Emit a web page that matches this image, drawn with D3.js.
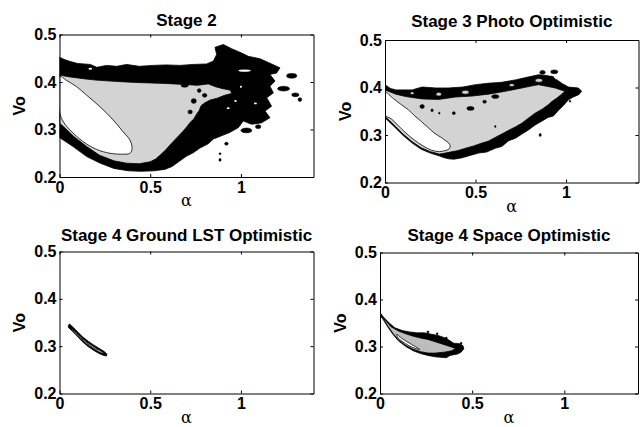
<!DOCTYPE html>
<html><head><meta charset="utf-8">
<script src="https://cdn.jsdelivr.net/npm/d3@7"></script>
<style>body{margin:0;background:#fff}</style>
</head><body><svg id="c" width="644" height="427"></svg>
<script>
// ---------- data ----------
const xDomain = [0, 1.4];
const yDomain = [0.2, 0.5];
const xTicks = [0, 0.5, 1];
const yTicks = [0.2, 0.3, 0.4, 0.5];
const titles = ["Stage 2", "Stage 3 Photo Optimistic", "Stage 4 Ground LST Optimistic", "Stage 4 Space Optimistic"];
const xLabel = "α", yLabel = "Vo";

// Stage 2 contour regions [alpha, Vo]
const s2Outer = [[0,0.452],[0.03,0.447],[0.06,0.443],[0.1,0.439],[0.17,0.437],[0.205,0.431],[0.26,0.435],[0.315,0.433],[0.37,0.437],[0.44,0.433],[0.515,0.435],[0.59,0.436],[0.664,0.435],[0.737,0.437],[0.811,0.438],[0.848,0.444],[0.866,0.458],[0.857,0.473],[0.903,0.479],[0.949,0.47],[1.004,0.461],[1.041,0.454],[1.105,0.449],[1.169,0.438],[1.215,0.43],[1.197,0.419],[1.16,0.416],[1.188,0.402],[1.16,0.391],[1.179,0.377],[1.142,0.367],[1.169,0.349],[1.133,0.339],[1.16,0.325],[1.114,0.314],[1.059,0.311],[1.013,0.318],[0.986,0.304],[0.94,0.294],[0.894,0.287],[0.848,0.28],[0.82,0.27],[0.774,0.261],[0.737,0.251],[0.701,0.244],[0.664,0.234],[0.62,0.222],[0.58,0.216],[0.52,0.213],[0.45,0.212],[0.38,0.213],[0.3,0.218],[0.225,0.229],[0.15,0.243],[0.075,0.264],[0.02,0.278],[0,0.283]];
const s2Mid = [[0,0.415],[0.05,0.411],[0.13,0.407],[0.2,0.404],[0.32,0.401],[0.42,0.399],[0.5,0.398],[0.58,0.397],[0.68,0.395],[0.76,0.393],[0.82,0.396],[0.86,0.39],[0.9,0.386],[0.94,0.383],[0.95,0.376],[0.91,0.372],[0.87,0.366],[0.83,0.362],[0.8,0.356],[0.78,0.35],[0.77,0.34],[0.755,0.332],[0.74,0.322],[0.72,0.315],[0.7,0.305],[0.68,0.296],[0.66,0.288],[0.635,0.278],[0.61,0.268],[0.585,0.257],[0.56,0.248],[0.53,0.238],[0.5,0.232],[0.44,0.228],[0.37,0.229],[0.3,0.234],[0.22,0.246],[0.15,0.264],[0.08,0.285],[0.02,0.307],[0,0.313]];
const s2Inner = [[0,0.412],[0.04,0.403],[0.095,0.39],[0.15,0.372],[0.223,0.348],[0.296,0.32],[0.351,0.295],[0.388,0.278],[0.4,0.26],[0.388,0.25],[0.351,0.248],[0.278,0.25],[0.205,0.258],[0.132,0.274],[0.058,0.299],[0.022,0.316],[0,0.337]];
// small islands [alpha, Vo, half-width, half-height, level]
const s2Spots = [[1.28,0.413,0.028,0.005,"k"],[1.235,0.386,0.033,0.005,"k"],[1.3,0.373,0.02,0.004,"k"],[1.325,0.363,0.01,0.004,"k"],[1.03,0.298,0.03,0.005,"k"],[1.095,0.306,0.015,0.004,"k"],[0.92,0.27,0.01,0.003,"k"],[0.885,0.249,0.005,0.002,"k"],[0.885,0.236,0.006,0.003,"k"],
  [1.02,0.424,0.035,0.0025,"w"],[0.17,0.428,0.01,0.002,"w"],[0.93,0.345,0.008,0.002,"w"],[1.0,0.39,0.006,0.002,"w"],[0.97,0.36,0.007,0.002,"w"],[1.08,0.355,0.008,0.002,"w"],
  [0.69,0.392,0.02,0.003,"k"],[0.72,0.337,0.012,0.004,"k"],[0.77,0.382,0.01,0.004,"k"],[0.74,0.36,0.014,0.005,"k"],[0.8,0.372,0.012,0.004,"k"]];

// Stage 3 Photo Optimistic
const s3Outer = [[0,0.406],[0.03,0.398],[0.06,0.395],[0.15,0.395],[0.205,0.401],[0.28,0.399],[0.35,0.399],[0.43,0.401],[0.5,0.406],[0.57,0.409],[0.645,0.411],[0.72,0.416],[0.79,0.422],[0.85,0.427],[0.9,0.425],[0.95,0.416],[0.98,0.408],[1.013,0.401],[1.068,0.399],[1.086,0.392],[1.07,0.385],[1.04,0.38],[1.013,0.374],[0.985,0.362],[0.958,0.352],[0.93,0.34],[0.9,0.337],[0.87,0.33],[0.829,0.321],[0.79,0.31],[0.756,0.302],[0.72,0.293],[0.683,0.288],[0.645,0.276],[0.609,0.272],[0.56,0.264],[0.517,0.262],[0.47,0.257],[0.426,0.252],[0.38,0.249],[0.35,0.25],[0.32,0.253],[0.3,0.256],[0.25,0.262],[0.2,0.27],[0.15,0.283],[0.1,0.299],[0.05,0.318],[0.02,0.329],[0,0.336]];
const s3Mid = [[0,0.395],[0.06,0.386],[0.114,0.381],[0.205,0.376],[0.297,0.375],[0.389,0.38],[0.481,0.382],[0.572,0.386],[0.664,0.392],[0.756,0.399],[0.82,0.404],[0.848,0.406],[0.9,0.402],[0.94,0.399],[0.994,0.392],[0.976,0.386],[0.95,0.378],[0.92,0.37],[0.903,0.364],[0.87,0.355],[0.829,0.346],[0.79,0.335],[0.756,0.325],[0.72,0.317],[0.683,0.31],[0.645,0.302],[0.609,0.295],[0.57,0.287],[0.536,0.283],[0.49,0.277],[0.444,0.272],[0.4,0.267],[0.36,0.264],[0.32,0.261],[0.3,0.26],[0.25,0.265],[0.2,0.273],[0.15,0.286],[0.1,0.302],[0.05,0.321],[0.02,0.332],[0,0.339]];
const s3Inner = [[0,0.391],[0.03,0.382],[0.055,0.374],[0.09,0.364],[0.129,0.353],[0.165,0.34],[0.202,0.328],[0.24,0.315],[0.276,0.303],[0.31,0.295],[0.331,0.289],[0.352,0.283],[0.36,0.277],[0.352,0.27],[0.33,0.267],[0.3,0.265],[0.257,0.268],[0.21,0.277],[0.16,0.29],[0.11,0.306],[0.07,0.321],[0.035,0.334],[0,0.342]];
const s3Spots = [[0.472,0.356,0.02,0.004,"k"],[0.38,0.346,0.008,0.003,"k"],[0.205,0.36,0.012,0.004,"k"],[0.609,0.381,0.02,0.004,"k"],[0.3,0.346,0.004,0.002,"k"],[0.609,0.318,0.004,0.002,"k"],[0.55,0.37,0.01,0.003,"k"],[0.26,0.352,0.006,0.003,"k"],
  [0.857,0.3,0.006,0.003,"k"],[0.87,0.432,0.015,0.004,"k"],[0.935,0.433,0.02,0.004,"k"],[0.915,0.419,0.02,0.005,"k"],[1.022,0.371,0.004,0.002,"k"],
  [0.444,0.39,0.02,0.004,"g"],[0.297,0.386,0.015,0.004,"g"],[0.7,0.405,0.015,0.003,"g"],[0.15,0.388,0.01,0.003,"g"],[0.85,0.415,0.02,0.004,"g"]];

// Stage 4 Ground LST Optimistic
const s4gOuter = [[0.048,0.343],[0.055,0.347],[0.075,0.34],[0.1,0.33],[0.13,0.319],[0.16,0.31],[0.19,0.302],[0.22,0.295],[0.245,0.289],[0.262,0.283],[0.258,0.279],[0.24,0.281],[0.215,0.285],[0.185,0.292],[0.155,0.3],[0.125,0.31],[0.095,0.322],[0.07,0.332],[0.05,0.339]];
const s4gMid = [[0.065,0.338],[0.09,0.329],[0.12,0.318],[0.15,0.309],[0.18,0.301],[0.21,0.294],[0.235,0.288],[0.248,0.285],[0.235,0.285],[0.21,0.289],[0.18,0.296],[0.15,0.304],[0.12,0.314],[0.09,0.325],[0.068,0.334]];
const s4gInner = [[0.1,0.325],[0.13,0.315],[0.16,0.306],[0.19,0.299],[0.215,0.292],[0.2,0.294],[0.17,0.301],[0.14,0.31],[0.11,0.32]];
const s4gSpots = [];

// Stage 4 Space Optimistic
const s4sOuter = [[0,0.372],[0.02,0.362],[0.05,0.35],[0.08,0.34],[0.12,0.334],[0.16,0.331],[0.2,0.329],[0.24,0.329],[0.28,0.326],[0.32,0.323],[0.36,0.317],[0.38,0.312],[0.4,0.307],[0.43,0.306],[0.45,0.302],[0.455,0.295],[0.44,0.288],[0.42,0.284],[0.38,0.281],[0.36,0.276],[0.33,0.277],[0.3,0.278],[0.26,0.281],[0.22,0.285],[0.18,0.291],[0.14,0.3],[0.1,0.312],[0.07,0.326],[0.04,0.343],[0.02,0.356],[0,0.366]];
const s4sMid = [[0.004,0.368],[0.03,0.355],[0.06,0.342],[0.1,0.333],[0.14,0.327],[0.18,0.322],[0.22,0.318],[0.26,0.315],[0.3,0.31],[0.34,0.305],[0.38,0.3],[0.41,0.296],[0.39,0.291],[0.35,0.288],[0.3,0.286],[0.26,0.286],[0.22,0.289],[0.18,0.294],[0.14,0.302],[0.1,0.314],[0.07,0.328],[0.04,0.345],[0.015,0.36]];
const s4sInner = [[0.09,0.326],[0.12,0.317],[0.16,0.307],[0.2,0.298],[0.215,0.294],[0.2,0.295],[0.16,0.301],[0.12,0.311],[0.095,0.32]];
const s4sSpots = [[0.36,0.318,0.005,0.002,"k"],[0.44,0.307,0.005,0.002,"k"],[0.26,0.331,0.006,0.002,"k"],[0.31,0.327,0.005,0.002,"k"]];

// ---------- layout ----------
const layout = [
  {l:59.5, r:313.5, t:34.5, b:177, ty:25.5},
  {l:385, r:638.5, t:40, b:182.5, ty:27},
  {l:59.5, r:313.5, t:251.5, b:393.5, ty:240.5},
  {l:380, r:638, t:252.5, b:393.5, ty:240.5}
];
const panels = [
  {outer:s2Outer, mid:s2Mid, inner:s2Inner, spots:s2Spots, gray:"#d3d3d3"},
  {outer:s3Outer, mid:s3Mid, inner:s3Inner, spots:s3Spots, gray:"#d3d3d3"},
  {outer:s4gOuter, mid:s4gMid, inner:s4gInner, spots:s4gSpots, gray:"#c8c8c8"},
  {outer:s4sOuter, mid:s4sMid, inner:s4sInner, spots:s4sSpots, gray:"#bdbdbd"}
];

const svg = d3.select("#c");
svg.append("rect").attr("width",644).attr("height",427).attr("fill","#fff");
const FONT = "'Liberation Sans', Arial, Helvetica, sans-serif";

panels.forEach((p, i) => {
  const L = layout[i];
  const x = d3.scaleLinear().domain(xDomain).range([L.l, L.r]);
  const y = d3.scaleLinear().domain(yDomain).range([L.b, L.t]);
  const g = svg.append("g");
  const cid = "clip" + i;
  svg.append("clipPath").attr("id", cid).append("rect")
    .attr("x", L.l).attr("y", L.t).attr("width", L.r - L.l).attr("height", L.b - L.t);
  const plot = g.append("g").attr("clip-path", `url(#${cid})`);
  const line = d3.line().x(d => x(d[0])).y(d => y(d[1])).curve(d3.curveLinearClosed);
  const smooth = d3.line().x(d => x(d[0])).y(d => y(d[1])).curve(d3.curveCatmullRomClosed);
  const fills = {k:"#000", g:p.gray, w:"#fff"};

  plot.append("path").attr("d", line(p.outer)).attr("fill", "#000").attr("stroke", "#000").attr("stroke-width", 0.8);
  plot.append("path").attr("d", line(p.mid)).attr("fill", p.gray).attr("stroke", "#000").attr("stroke-width", 0.8);
  p.spots.forEach(s => {
    plot.append("ellipse")
      .attr("cx", x(s[0])).attr("cy", y(s[1]))
      .attr("rx", x(s[0] + s[2]) - x(s[0])).attr("ry", y(s[1]) - y(s[1] + s[3]))
      .attr("fill", fills[s[4]]).attr("stroke", s[4] === "w" ? "none" : "#000").attr("stroke-width", 0.6);
  });
  plot.append("path").attr("d", smooth(p.inner)).attr("fill", "#fff").attr("stroke", "#000").attr("stroke-width", 0.8);

  // axes (box with inward ticks)
  const fmt = d => String(d);
  const styleAxis = sel => {
    sel.selectAll("path.domain").attr("stroke", "#000").attr("stroke-width", 1);
    sel.selectAll(".tick line").attr("stroke", "#000").attr("stroke-width", 1);
    sel.selectAll("text").attr("font-family", FONT).attr("font-size", 16).attr("font-weight", "bold").attr("fill", "#000");
  };
  g.append("g").attr("transform", `translate(0,${L.b})`)
    .call(d3.axisBottom(x).tickValues(xTicks).tickFormat(fmt).tickSizeInner(-3).tickSizeOuter(0).tickPadding(4.5)).call(styleAxis);
  g.append("g").attr("transform", `translate(0,${L.t})`)
    .call(d3.axisTop(x).tickValues(xTicks).tickFormat(() => "").tickSizeInner(-3).tickSizeOuter(0)).call(styleAxis);
  g.append("g").attr("transform", `translate(${L.l},0)`)
    .call(d3.axisLeft(y).tickValues(yTicks).tickFormat(fmt).tickSizeInner(-3).tickSizeOuter(0).tickPadding(3)).call(styleAxis);
  g.append("g").attr("transform", `translate(${L.r},0)`)
    .call(d3.axisRight(y).tickValues(yTicks).tickFormat(() => "").tickSizeInner(-3).tickSizeOuter(0)).call(styleAxis);

  // title
  g.append("text").attr("x", (L.l + L.r) / 2).attr("y", L.ty).attr("text-anchor", "middle")
    .attr("font-family", FONT).attr("font-size", 17).attr("font-weight", "bold").text(titles[i]);
  // x label
  g.append("text").attr("x", (L.l + L.r) / 2).attr("y", L.b + 29).attr("text-anchor", "middle")
    .attr("font-family", "'DejaVu Serif', 'Liberation Serif', serif").attr("font-size", 16).text(xLabel);
  // y label
  const yc = (L.t + L.b) / 2;
  g.append("text").attr("transform", `translate(${L.l - 40},${yc}) rotate(-90)`)
    .attr("text-anchor", "middle").attr("dominant-baseline", "central")
    .attr("font-family", FONT).attr("font-size", 16).attr("font-weight", "bold").text(yLabel);
});
</script></body></html>
